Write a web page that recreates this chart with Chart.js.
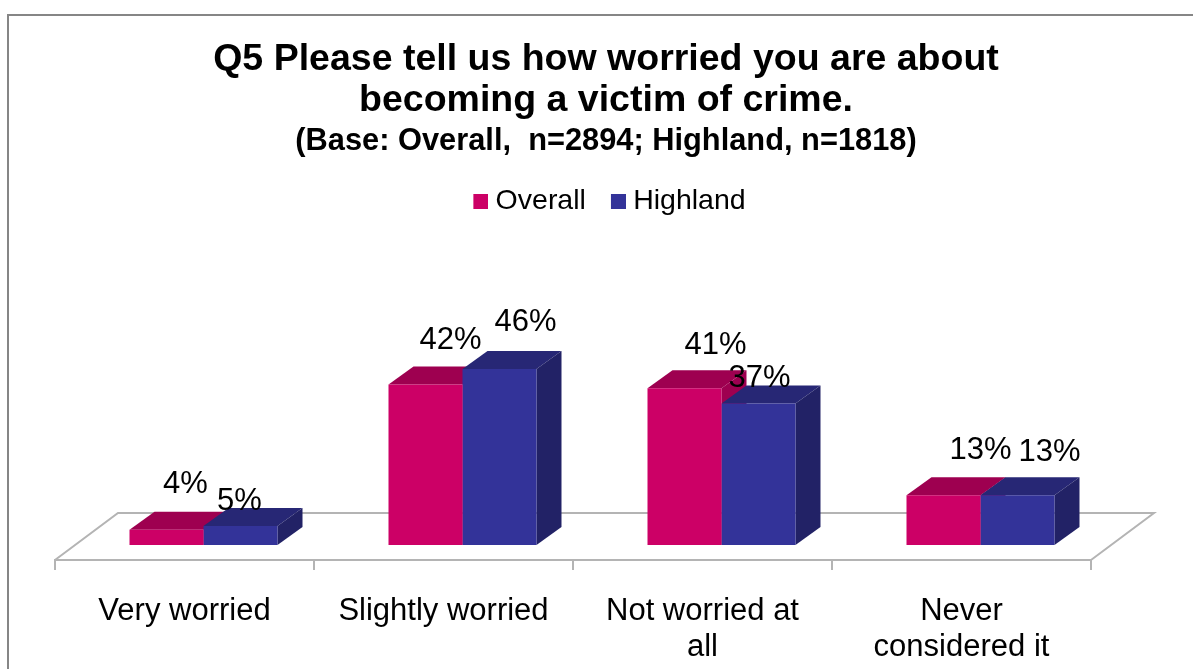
<!DOCTYPE html>
<html>
<head>
<meta charset="utf-8">
<title>Q5</title>
<script src="https://cdn.jsdelivr.net/npm/chart.js@4"></script>
<style>
    html, body { margin: 0; padding: 0; background: #fff; overflow: hidden; }
    canvas { display: block; }
</style>
</head>
<body>
<canvas id="q5Chart" width="1193" height="669"></canvas>
<script>
const categories = ["Very worried", "Slightly worried", ["Not worried at", "all"], ["Never", "considered it"]];
const overallValues = [4, 42, 41, 13];
const highlandValues = [5, 46, 37, 13];
const titleLines = ["Q5 Please tell us how worried you are about", "becoming a victim of crime."];
const subtitleText = "(Base: Overall,  n=2894; Highland, n=1818)";

const fontFamily = '"Liberation Sans", Arial, sans-serif';

// fake 3D: the bars sit part way into the floor, so everything is shifted
const barShift = { x: 19, y: -15 };
const barDepth = { x: 25, y: 18 };
const floorDepth = { x: 63, y: 47 };

const frontColors = ["#CC0066", "#333399"];
const faceColors = [
    { top: "#9E0050", side: "#9E0050" },
    { top: "#272775", side: "#222266" },
];

// hand placed labels in the original, offset from the top of the front face
const labelShift = [
    [[19, -45], [25, -44], [31, -43], [37, -45]],
    [[-1, -24], [26, -47], [1, -25], [32, -43]],
];

// legend swatch with empty space on its left, pulls the square closer to the text
function legendSwatch(color) {
    const swatch = document.createElement("canvas");
    swatch.width = 29;
    swatch.height = 15;
    const c = swatch.getContext("2d");
    c.fillStyle = color;
    c.fillRect(14, 0, 15, 15);
    return swatch;
}

function drawDepthFaces(ctx, meta, colors) {
    meta.data.forEach((bar) => {
        const left = bar.x - bar.width / 2;
        const right = bar.x + bar.width / 2;
        ctx.fillStyle = colors.top;
        ctx.beginPath();
        ctx.moveTo(left, bar.y);
        ctx.lineTo(left + barDepth.x, bar.y - barDepth.y);
        ctx.lineTo(right + barDepth.x, bar.y - barDepth.y);
        ctx.lineTo(right, bar.y);
        ctx.closePath();
        ctx.fill();
        ctx.fillStyle = colors.side;
        ctx.beginPath();
        ctx.moveTo(right, bar.y);
        ctx.lineTo(right + barDepth.x, bar.y - barDepth.y);
        ctx.lineTo(right + barDepth.x, bar.base - barDepth.y);
        ctx.lineTo(right, bar.base);
        ctx.closePath();
        ctx.fill();
    });
}

const depthPlugin = {
    id: "depth",
    start(chart) {
        // keeps the plot area well below the legend
        const fit = chart.legend.fit;
        chart.legend.fit = function () {
            fit.call(this);
            this.height += 105;
        };
    },
    beforeDraw(chart) {
        const ctx = chart.ctx;
        ctx.save();
        ctx.strokeStyle = "#868686";
        ctx.lineWidth = 2;
        ctx.beginPath();
        ctx.moveTo(8, chart.height);
        ctx.lineTo(8, 15);
        ctx.lineTo(chart.width, 15);
        ctx.stroke();
        ctx.restore();
    },
    beforeDatasetsDraw(chart) {
        const { ctx, chartArea: a } = chart;
        ctx.save();
        ctx.strokeStyle = "#b4b4b4";
        ctx.lineWidth = 2;
        ctx.beginPath();
        ctx.moveTo(a.left, a.bottom);
        ctx.lineTo(a.left + floorDepth.x, a.bottom - floorDepth.y);
        ctx.lineTo(a.right + floorDepth.x, a.bottom - floorDepth.y);
        ctx.lineTo(a.right, a.bottom);
        ctx.stroke();
        ctx.restore();

        // back faces first, the library then paints the fronts on top
        ctx.save();
        ctx.translate(barShift.x, barShift.y);
        faceColors.forEach((colors, i) => drawDepthFaces(ctx, chart.getDatasetMeta(i), colors));
    },
    afterDatasetsDraw(chart) {
        const ctx = chart.ctx;
        ctx.font = "31px " + fontFamily;
        ctx.fillStyle = "#000";
        ctx.textAlign = "center";
        ctx.textBaseline = "middle";
        chart.data.datasets.forEach((ds, i) => {
            chart.getDatasetMeta(i).data.forEach((bar, j) => {
                const shift = labelShift[i][j];
                ctx.fillText(ds.data[j] + "%", bar.x + shift[0], bar.y + shift[1]);
            });
        });
        ctx.restore();
    },
};

new Chart(document.getElementById("q5Chart"), {
    type: "bar",
    data: {
        labels: categories,
        datasets: [
            { label: "Overall", data: overallValues, backgroundColor: frontColors[0], clip: false },
            { label: "Highland", data: highlandValues, backgroundColor: frontColors[1], clip: false },
        ],
    },
    plugins: [depthPlugin],
    options: {
        responsive: false,
        animation: false,
        layout: { padding: { left: 19, right: 0, top: 39, bottom: 0 } },
        datasets: { bar: { categoryPercentage: 0.5714, barPercentage: 1 } },
        scales: {
            x: {
                afterFit: (s) => { s.height = 109; },
                border: { display: true, color: "#b4b4b4", width: 2 },
                grid: { offset: true, drawOnChartArea: false, drawTicks: true, tickLength: 10, color: "#b4b4b4", lineWidth: 2 },
                ticks: {
                    color: "#000",
                    padding: 23,
                    maxRotation: 0,
                    autoSkip: false,
                    font: { family: fontFamily, size: 31, lineHeight: 1.18 },
                },
            },
            y: {
                min: 0,
                max: 60,
                afterFit: (s) => { s.width = 36; },
                border: { display: false },
                grid: { display: false },
                ticks: { display: false },
            },
            yPad: {
                position: "right",
                afterFit: (s) => { s.width = 102; },
                border: { display: false },
                grid: { display: false },
                ticks: { display: false },
            },
        },
        plugins: {
            title: {
                display: true,
                text: titleLines,
                color: "#000",
                padding: { top: 0, bottom: 3 },
                font: { family: fontFamily, size: 37.5, weight: "bold", lineHeight: 1.093 },
            },
            subtitle: {
                display: true,
                text: subtitleText,
                color: "#000",
                padding: { top: 0, bottom: 10 },
                font: { family: fontFamily, size: 30.8, weight: "bold", lineHeight: 1.14 },
            },
            legend: {
                display: true,
                position: "top",
                labels: {
                    color: "#000",
                    usePointStyle: true,
                    boxWidth: 15,
                    boxHeight: 15,
                    padding: 18,
                    font: { family: fontFamily, size: 28.5 },
                    generateLabels: (chart) =>
                        Chart.defaults.plugins.legend.labels.generateLabels(chart).map((item, i) => ({
                            ...item,
                            pointStyle: legendSwatch(frontColors[i]),
                        })),
                },
            },
            tooltip: { enabled: false },
        },
    },
});
</script>
</body>
</html>
